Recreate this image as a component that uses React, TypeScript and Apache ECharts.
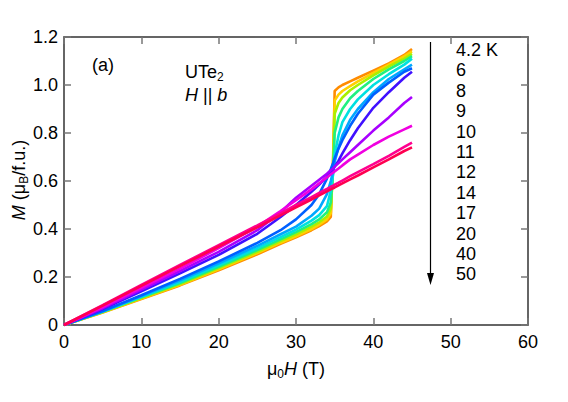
import React, { useEffect, useRef } from 'react';
import * as echarts from 'echarts';

// Magnetic field (T), common grid for all curves
const fieldValues = [0, 5, 10, 15, 20, 25, 28, 30, 32, 33, 34, 34.5, 34.8, 35, 35.5, 36, 37, 38, 40, 42, 44, 45];

const temperatureLabels = ['4.2 K', '6', '8', '9', '10', '11', '12', '14', '17', '20', '40', '50'];

// Magnetization (μB/f.u.) per temperature
const m4_2K = [0, 0.052, 0.108, 0.165, 0.228, 0.295, 0.338, 0.365, 0.395, 0.412, 0.432, 0.45, 0.70, 0.975, 0.99, 1.0, 1.015, 1.03, 1.06, 1.09, 1.125, 1.15];
const m6K = [0, 0.053, 0.110, 0.168, 0.232, 0.300, 0.343, 0.370, 0.400, 0.418, 0.440, 0.465, 0.68, 0.935, 0.96, 0.975, 0.995, 1.015, 1.05, 1.085, 1.12, 1.14];
const m8K = [0, 0.054, 0.112, 0.171, 0.237, 0.305, 0.350, 0.378, 0.410, 0.428, 0.452, 0.485, 0.66, 0.88, 0.925, 0.948, 0.978, 1.0, 1.04, 1.077, 1.11, 1.13];
const m9K = [0, 0.055, 0.115, 0.175, 0.242, 0.312, 0.357, 0.387, 0.420, 0.440, 0.470, 0.510, 0.64, 0.80, 0.865, 0.90, 0.945, 0.975, 1.025, 1.065, 1.10, 1.12];
const m10K = [0, 0.056, 0.118, 0.180, 0.250, 0.320, 0.366, 0.397, 0.435, 0.458, 0.495, 0.560, 0.63, 0.71, 0.79, 0.845, 0.90, 0.94, 1.0, 1.045, 1.085, 1.11];
const m11K = [0, 0.057, 0.121, 0.186, 0.257, 0.330, 0.378, 0.410, 0.455, 0.485, 0.545, 0.600, 0.64, 0.68, 0.74, 0.79, 0.855, 0.90, 0.97, 1.025, 1.065, 1.085];
const m12K = [0, 0.058, 0.124, 0.192, 0.265, 0.342, 0.395, 0.440, 0.500, 0.545, 0.610, 0.650, 0.675, 0.695, 0.735, 0.77, 0.83, 0.88, 0.96, 1.01, 1.055, 1.07];
const m14K = [0, 0.066, 0.140, 0.215, 0.292, 0.380, 0.450, 0.500, 0.555, 0.585, 0.618, 0.636, 0.648, 0.66, 0.685, 0.715, 0.77, 0.82, 0.905, 0.97, 1.03, 1.055];
const m17K = [0, 0.070, 0.148, 0.225, 0.305, 0.395, 0.470, 0.530, 0.580, 0.605, 0.630, 0.645, 0.652, 0.66, 0.675, 0.69, 0.72, 0.75, 0.81, 0.865, 0.925, 0.95];
const m20K = [0, 0.075, 0.155, 0.235, 0.320, 0.410, 0.475, 0.520, 0.565, 0.590, 0.615, 0.628, 0.635, 0.64, 0.652, 0.665, 0.69, 0.71, 0.75, 0.785, 0.815, 0.83];
const m40K = [0, 0.083, 0.167, 0.250, 0.333, 0.415, 0.465, 0.500, 0.533, 0.550, 0.567, 0.576, 0.581, 0.585, 0.593, 0.602, 0.62, 0.637, 0.67, 0.705, 0.742, 0.76];
const m50K = [0, 0.081, 0.163, 0.245, 0.327, 0.407, 0.457, 0.490, 0.523, 0.540, 0.557, 0.565, 0.570, 0.573, 0.582, 0.59, 0.607, 0.623, 0.657, 0.69, 0.725, 0.74];

const magnetizationCurves = [m4_2K, m6K, m8K, m9K, m10K, m11K, m12K, m14K, m17K, m20K, m40K, m50K];

const curveColors = ['#FF8C00', '#FFD000', '#A8F000', '#20F080', '#00E0E0', '#00A8FF', '#0060FF', '#4010FF', '#A800FF', '#F000E0', '#FF0090', '#FF0050'];

const FONT = '"Liberation Sans", Arial, Helvetica, sans-serif';

export default function App() {
  const ref = useRef<HTMLDivElement>(null);

  useEffect(() => {
    if (!ref.current) return;
    const chart = echarts.init(ref.current, null, { renderer: 'svg' });

    const axisLine = () => ({ show: true, onZero: false, lineStyle: { color: '#333', width: 1.5 } });
    const axisTick = () => ({ show: true, inside: true, length: 7, lineStyle: { color: '#777', width: 1.5 } });

    const series = magnetizationCurves.map((vals, k) => ({
      type: 'line',
      name: temperatureLabels[k],
      data: fieldValues.map((h, i) => [h, vals[i]]),
      showSymbol: false,
      symbol: 'none',
      silent: true,
      z: 2 + k,
      lineStyle: { width: 2.6, color: curveColors[k] },
      itemStyle: { color: curveColors[k] },
    }));

    const legendTexts = temperatureLabels.map((t, i) => ({
      type: 'text',
      x: 456,
      y: 50 + i * 20.4,
      style: { text: t, fontSize: 18, fontFamily: FONT, fill: '#000', align: 'left', verticalAlign: 'middle' },
    }));

    const rich = {
      n: { fontSize: 18, fontFamily: FONT, lineHeight: 22, fill: '#000', color: '#000' },
      i: { fontSize: 18, fontFamily: FONT, fontStyle: 'italic', lineHeight: 22, fill: '#000', color: '#000' },
      s: { fontSize: 12, fontFamily: FONT, lineHeight: 10, verticalAlign: 'bottom', fill: '#000', color: '#000' },
    };

    chart.setOption({
      animation: false,
      grid: { left: 64, top: 37, width: 464, height: 288, containLabel: false },
      xAxis: [
        {
          type: 'value', position: 'bottom', min: 0, max: 60, interval: 10,
          axisLine: axisLine(), axisTick: axisTick(), splitLine: { show: false },
          axisLabel: { fontSize: 18, fontFamily: FONT, color: '#000', margin: 8 },
        },
        {
          type: 'value', position: 'top', min: 0, max: 60, interval: 10,
          axisLine: axisLine(), axisTick: axisTick(), splitLine: { show: false }, axisLabel: { show: false },
        },
      ],
      yAxis: [
        {
          type: 'value', position: 'left', min: 0, max: 1.2, interval: 0.2,
          axisLine: axisLine(), axisTick: axisTick(), splitLine: { show: false },
          axisLabel: {
            fontSize: 18, fontFamily: FONT, color: '#000', margin: 6,
            formatter: (v: number) => (v === 0 ? '0' : v.toFixed(1)),
          },
        },
        {
          type: 'value', position: 'right', min: 0, max: 1.2, interval: 0.2,
          axisLine: axisLine(), axisTick: axisTick(), splitLine: { show: false }, axisLabel: { show: false },
        },
      ],
      series,
      graphic: [
        {
          type: 'text', x: 92, y: 65,
          style: { text: '(a)', fontSize: 18, fontFamily: FONT, fill: '#000', align: 'left', verticalAlign: 'middle' },
        },
        {
          type: 'text', x: 185, y: 72,
          style: { text: '{n|UTe}{s|2}', rich, fontSize: 18, fontFamily: FONT, fill: '#000', align: 'left', verticalAlign: 'middle' },
        },
        {
          type: 'text', x: 185, y: 95,
          style: { text: '{i|H} {n|||} {i|b}', rich, fontSize: 18, fontFamily: FONT, fill: '#000', align: 'left', verticalAlign: 'middle' },
        },
        {
          type: 'text', x: 19, y: 180, rotation: Math.PI / 2,
          style: { text: '{i|M} {n|(μ}{s|B}{n|/f.u.)}', rich, fontSize: 18, fontFamily: FONT, fill: '#000', align: 'center', verticalAlign: 'middle' },
        },
        {
          type: 'text', x: 296, y: 369,
          style: { text: '{n|μ}{s|0}{i|H} {n|(T)}', rich, fontSize: 18, fontFamily: FONT, fill: '#000', align: 'center', verticalAlign: 'middle' },
        },
        {
          type: 'line',
          shape: { x1: 430.5, y1: 42, x2: 430.5, y2: 276 },
          style: { stroke: '#000', lineWidth: 1.2 },
        },
        {
          type: 'polygon',
          shape: { points: [[427, 273], [434, 273], [430.5, 285]] },
          style: { fill: '#000' },
        },
        ...legendTexts,
      ],
    });

    return () => chart.dispose();
  }, []);

  return <div ref={ref} style={{ position: 'absolute', left: 0, top: 0, width: 568, height: 402, background: '#fff' }} />;
}
